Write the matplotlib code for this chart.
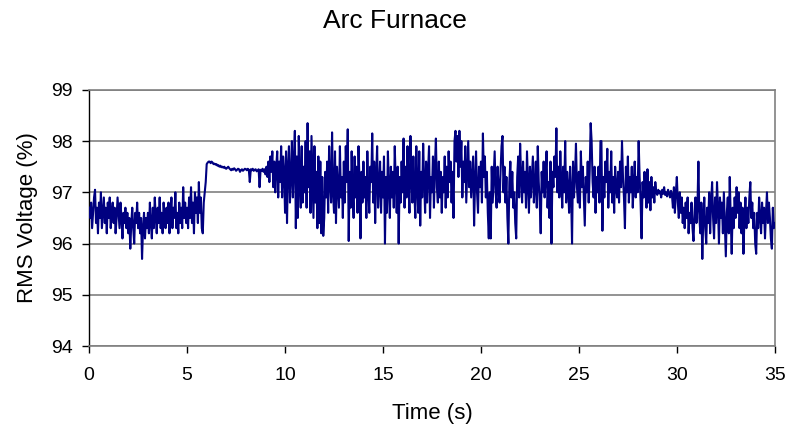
import matplotlib.pyplot as plt
import numpy as np

plt.rcParams["font.family"] = ["Liberation Sans", "DejaVu Sans"]

# sample interval of the RMS record (s)
DT = 0.05

# RMS voltage (%), one row per second (20 samples)
RMS_VOLTAGE = [
    96.7, 96.5, 96.8, 96.3, 96.6, 96.9, 97.05, 96.4, 96.7, 96.2, 96.8, 96.5, 97.0, 96.3, 96.6, 96.9, 96.4, 96.7, 96.2, 96.8,
    96.5, 96.9, 96.3, 96.6, 96.8, 96.4, 96.7, 96.2, 96.5, 96.9, 96.6, 96.3, 96.8, 96.5, 96.1, 96.6, 96.4, 96.7, 96.3, 96.6,
    96.2, 96.5, 95.9, 96.4, 96.7, 96.3, 96.0, 96.6, 96.4, 96.8, 96.3, 96.6, 96.2, 96.5, 95.7, 96.3, 96.6, 96.1, 96.5, 96.3,
    96.6, 96.2, 96.8, 96.4, 96.1, 96.7, 96.3, 96.9, 96.5, 96.2, 96.7, 96.4, 96.9, 96.3, 96.6, 96.2, 96.8, 96.5, 96.3, 96.7,
    96.4, 96.8, 96.2, 96.6, 96.9, 96.3, 96.7, 96.5, 97.0, 96.3, 96.6, 96.2, 96.8, 96.4, 96.7, 96.3, 97.1, 96.5, 96.8, 96.4,
    96.7, 96.3, 96.9, 96.5, 97.1, 96.4, 96.8, 96.2, 97.0, 96.6, 96.9, 96.4, 97.2, 96.6, 96.9, 96.3, 96.2, 96.8, 97.0, 97.2,
    97.55, 97.58, 97.6, 97.6, 97.57, 97.6, 97.58, 97.55, 97.56, 97.54, 97.55, 97.52, 97.53, 97.5, 97.52, 97.49, 97.5, 97.48, 97.5, 97.47,
    97.46, 97.48, 97.5, 97.47, 97.45, 97.43, 97.46, 97.44, 97.47, 97.45, 97.42, 97.44, 97.46, 97.45, 97.4, 97.43, 97.45, 97.42, 97.44, 97.46,
    97.45, 97.43, 97.46, 97.44, 97.2, 97.45, 97.43, 97.46, 97.42, 97.44, 97.45, 97.41, 97.43, 97.45, 97.1, 97.44, 97.42, 97.46, 97.4, 97.45,
    97.35, 97.5, 97.3, 97.6, 97.2, 97.7, 97.4, 97.8, 97.1, 97.6, 97.0, 97.5, 97.8, 96.9, 97.6, 97.2, 97.9, 96.9, 97.7, 97.4,
    96.6, 97.8, 96.4, 97.5, 97.9, 96.8, 97.3, 98.0, 96.9, 97.6, 98.2, 96.3, 97.7, 96.5, 98.1, 97.2, 96.7, 97.9, 96.8, 97.5,
    97.0, 98.0, 96.7, 98.35, 97.1, 97.8, 96.6, 98.1, 97.3, 96.5, 97.9, 96.8, 97.4, 96.3, 97.7, 96.4, 97.6, 96.2, 97.3, 96.15,
    96.5, 97.4, 96.9, 97.6, 96.6, 97.9, 97.2, 96.8, 98.17, 97.0, 96.6, 97.8, 96.4, 97.5, 97.1, 96.7, 97.9, 96.9, 97.3, 96.5,
    97.6, 96.8, 97.9, 97.2, 98.23, 96.05, 97.4, 96.7, 97.8, 97.0, 96.5, 97.7, 96.9, 97.5, 96.6, 97.9, 97.2, 96.1, 97.4, 96.8,
    97.6, 96.9, 97.3, 96.5, 97.8, 97.0, 96.6, 97.5, 97.2, 98.15, 96.8, 97.6, 96.4, 97.3, 97.9, 96.7, 97.1, 97.6, 96.6, 97.4,
    96.9, 97.7, 96.0, 97.3, 96.6, 97.8, 97.1, 96.5, 97.5, 96.9, 97.4, 96.7, 97.9, 97.2, 96.6, 97.5, 96.0, 97.3, 96.8, 97.6,
    97.0, 98.05, 96.7, 97.5, 96.9, 97.9, 97.2, 96.6, 98.1, 97.3, 96.8, 97.7, 97.0, 96.5, 97.9, 97.1, 96.6, 97.8, 96.35, 97.4,
    96.9, 97.95, 97.2, 96.6, 97.6, 96.8, 97.4, 97.9, 96.5, 97.3, 97.0, 97.7, 96.7, 97.5, 98.05, 97.1, 96.8, 97.6, 96.9, 97.4,
    96.6, 97.3, 97.0, 97.7, 96.7, 97.5, 96.9, 97.8, 97.2, 97.6, 96.8, 97.4, 96.5, 98.0, 98.2, 97.6, 98.1, 97.3, 98.2, 97.5,
    98.0, 96.9, 97.6, 97.2, 97.9, 96.8, 97.4, 98.0, 97.1, 97.6, 96.9, 97.3, 97.7, 96.35, 97.2, 97.8, 97.0, 96.6, 97.5, 97.1,
    97.6, 96.8, 98.15, 97.3, 97.7, 96.9, 97.4, 96.6, 96.1, 97.0, 96.1, 97.5, 96.8, 97.3, 97.8, 97.0, 96.7, 97.5, 97.1, 96.8,
    97.4, 97.9, 98.1, 97.0, 97.5, 96.8, 97.3, 96.5, 96.0, 97.2, 97.6, 96.9, 97.4, 96.7, 97.0, 96.4, 96.1, 97.3, 97.7, 96.9,
    97.95, 97.3, 96.8, 97.6, 97.0, 97.4, 96.7, 97.8, 97.2, 96.6, 97.5, 96.9, 97.3, 97.7, 96.8, 97.1, 97.6, 96.7, 97.9, 97.2,
    96.8, 96.2, 97.4, 97.0, 97.6, 96.9, 97.3, 97.8, 96.7, 97.2, 96.5, 97.6, 96.0, 97.4, 97.1, 97.7, 97.3, 98.25, 97.0, 97.5,
    96.9, 97.8, 97.2, 96.7, 97.5, 97.0, 98.0, 96.8, 97.4, 97.1, 96.6, 97.5, 97.0, 96.0, 97.6, 96.9, 97.3, 97.95, 97.1, 96.8,
    97.4, 96.7, 97.8, 97.1, 97.5, 96.9, 96.35, 97.3, 97.0, 97.6, 96.8, 97.4, 98.35, 98.0, 97.2, 96.9, 97.5, 96.6, 97.3, 97.0,
    97.5, 96.8, 98.0, 98.0, 96.25, 97.3, 96.9, 97.6, 97.2, 97.85, 96.7, 97.4, 97.0, 97.8, 96.8, 97.3, 96.6, 97.5, 97.1, 96.9,
    97.4, 96.8, 97.6, 97.1, 98.0, 97.3, 96.9, 96.3, 97.5, 97.0, 97.7, 96.8, 97.3, 97.0, 97.5, 96.7, 97.2, 97.6, 96.9, 97.3,
    97.0, 98.0, 97.3, 96.8, 96.1, 97.2, 96.9, 97.4, 97.0, 96.7, 97.45, 96.8, 97.2, 96.65, 97.3, 96.9, 97.1, 96.8, 97.2, 97.0,
    96.95, 97.05, 96.98, 97.02, 96.9, 97.05, 96.97, 97.1, 96.95, 97.0, 96.92, 97.05, 96.98, 96.9, 97.03, 96.95, 96.7, 97.1, 96.6, 97.0,
    97.3, 96.8, 96.5, 97.0, 96.6, 96.9, 96.4, 96.7, 96.3, 96.8, 96.5, 96.9, 96.2, 96.6, 96.4, 96.8, 96.3, 96.05, 96.6, 96.9,
    96.4, 96.7, 97.6, 96.5, 96.2, 96.8, 95.7, 96.5, 96.9, 96.3, 96.0, 96.7, 96.4, 97.0, 96.2, 96.8, 97.2, 96.5, 96.1, 96.9,
    96.4, 97.2, 96.7, 96.0, 96.9, 96.5, 96.8, 96.2, 97.0, 96.4, 95.75, 96.6, 96.9, 96.2, 97.3, 96.5, 95.8, 96.7, 96.3, 96.9,
    96.5, 97.1, 96.6, 97.0, 96.3, 96.8, 96.2, 96.7, 95.8, 96.5, 96.9, 96.3, 96.7, 96.4, 96.9, 97.2, 96.5, 96.8, 96.3, 96.6,
    96.0, 95.8, 96.6, 96.3, 96.9, 96.5, 96.2, 96.8, 96.4, 96.7, 96.1, 96.6, 97.0, 96.4, 96.8, 96.5, 96.1, 95.9, 96.7, 96.3,
    96.4,
]

X_TICKS = [0, 5, 10, 15, 20, 25, 30, 35]
Y_TICKS = [94, 95, 96, 97, 98, 99]

volts = np.array(RMS_VOLTAGE)
time_s = np.arange(len(volts)) * DT

fig = plt.figure(figsize=(7.89, 4.32), dpi=100)
ax = fig.add_axes([0.113, 0.199, 0.869, 0.593])

ax.plot(time_s, volts, color="#000080", lw=1.5, zorder=3)

ax.set_xlim(0, 35)
ax.set_ylim(94, 99)
ax.set_xticks(X_TICKS)
ax.set_yticks(Y_TICKS)
ax.yaxis.grid(True, color="#808080", lw=1.2, zorder=1)
ax.set_axisbelow(True)

for name in ("top", "right", "bottom"):
    ax.spines[name].set_color("#808080")
    ax.spines[name].set_linewidth(1.2)
ax.spines["left"].set_color("black")
ax.spines["left"].set_linewidth(1.0)

ax.tick_params(direction="out", length=5, width=1, labelsize=14, colors="black")
ax.tick_params(axis="x", pad=10)
ax.tick_params(axis="y", pad=7)

ax.set_xlabel("Time (s)", fontsize=16, labelpad=14)
ax.set_ylabel("RMS Voltage (%)", fontsize=16, labelpad=9)
fig.text(0.5, 1 - 21 / 432, "Arc Furnace", fontsize=19, ha="center", va="center")

fig.savefig("out.png", dpi=100, facecolor="white")
